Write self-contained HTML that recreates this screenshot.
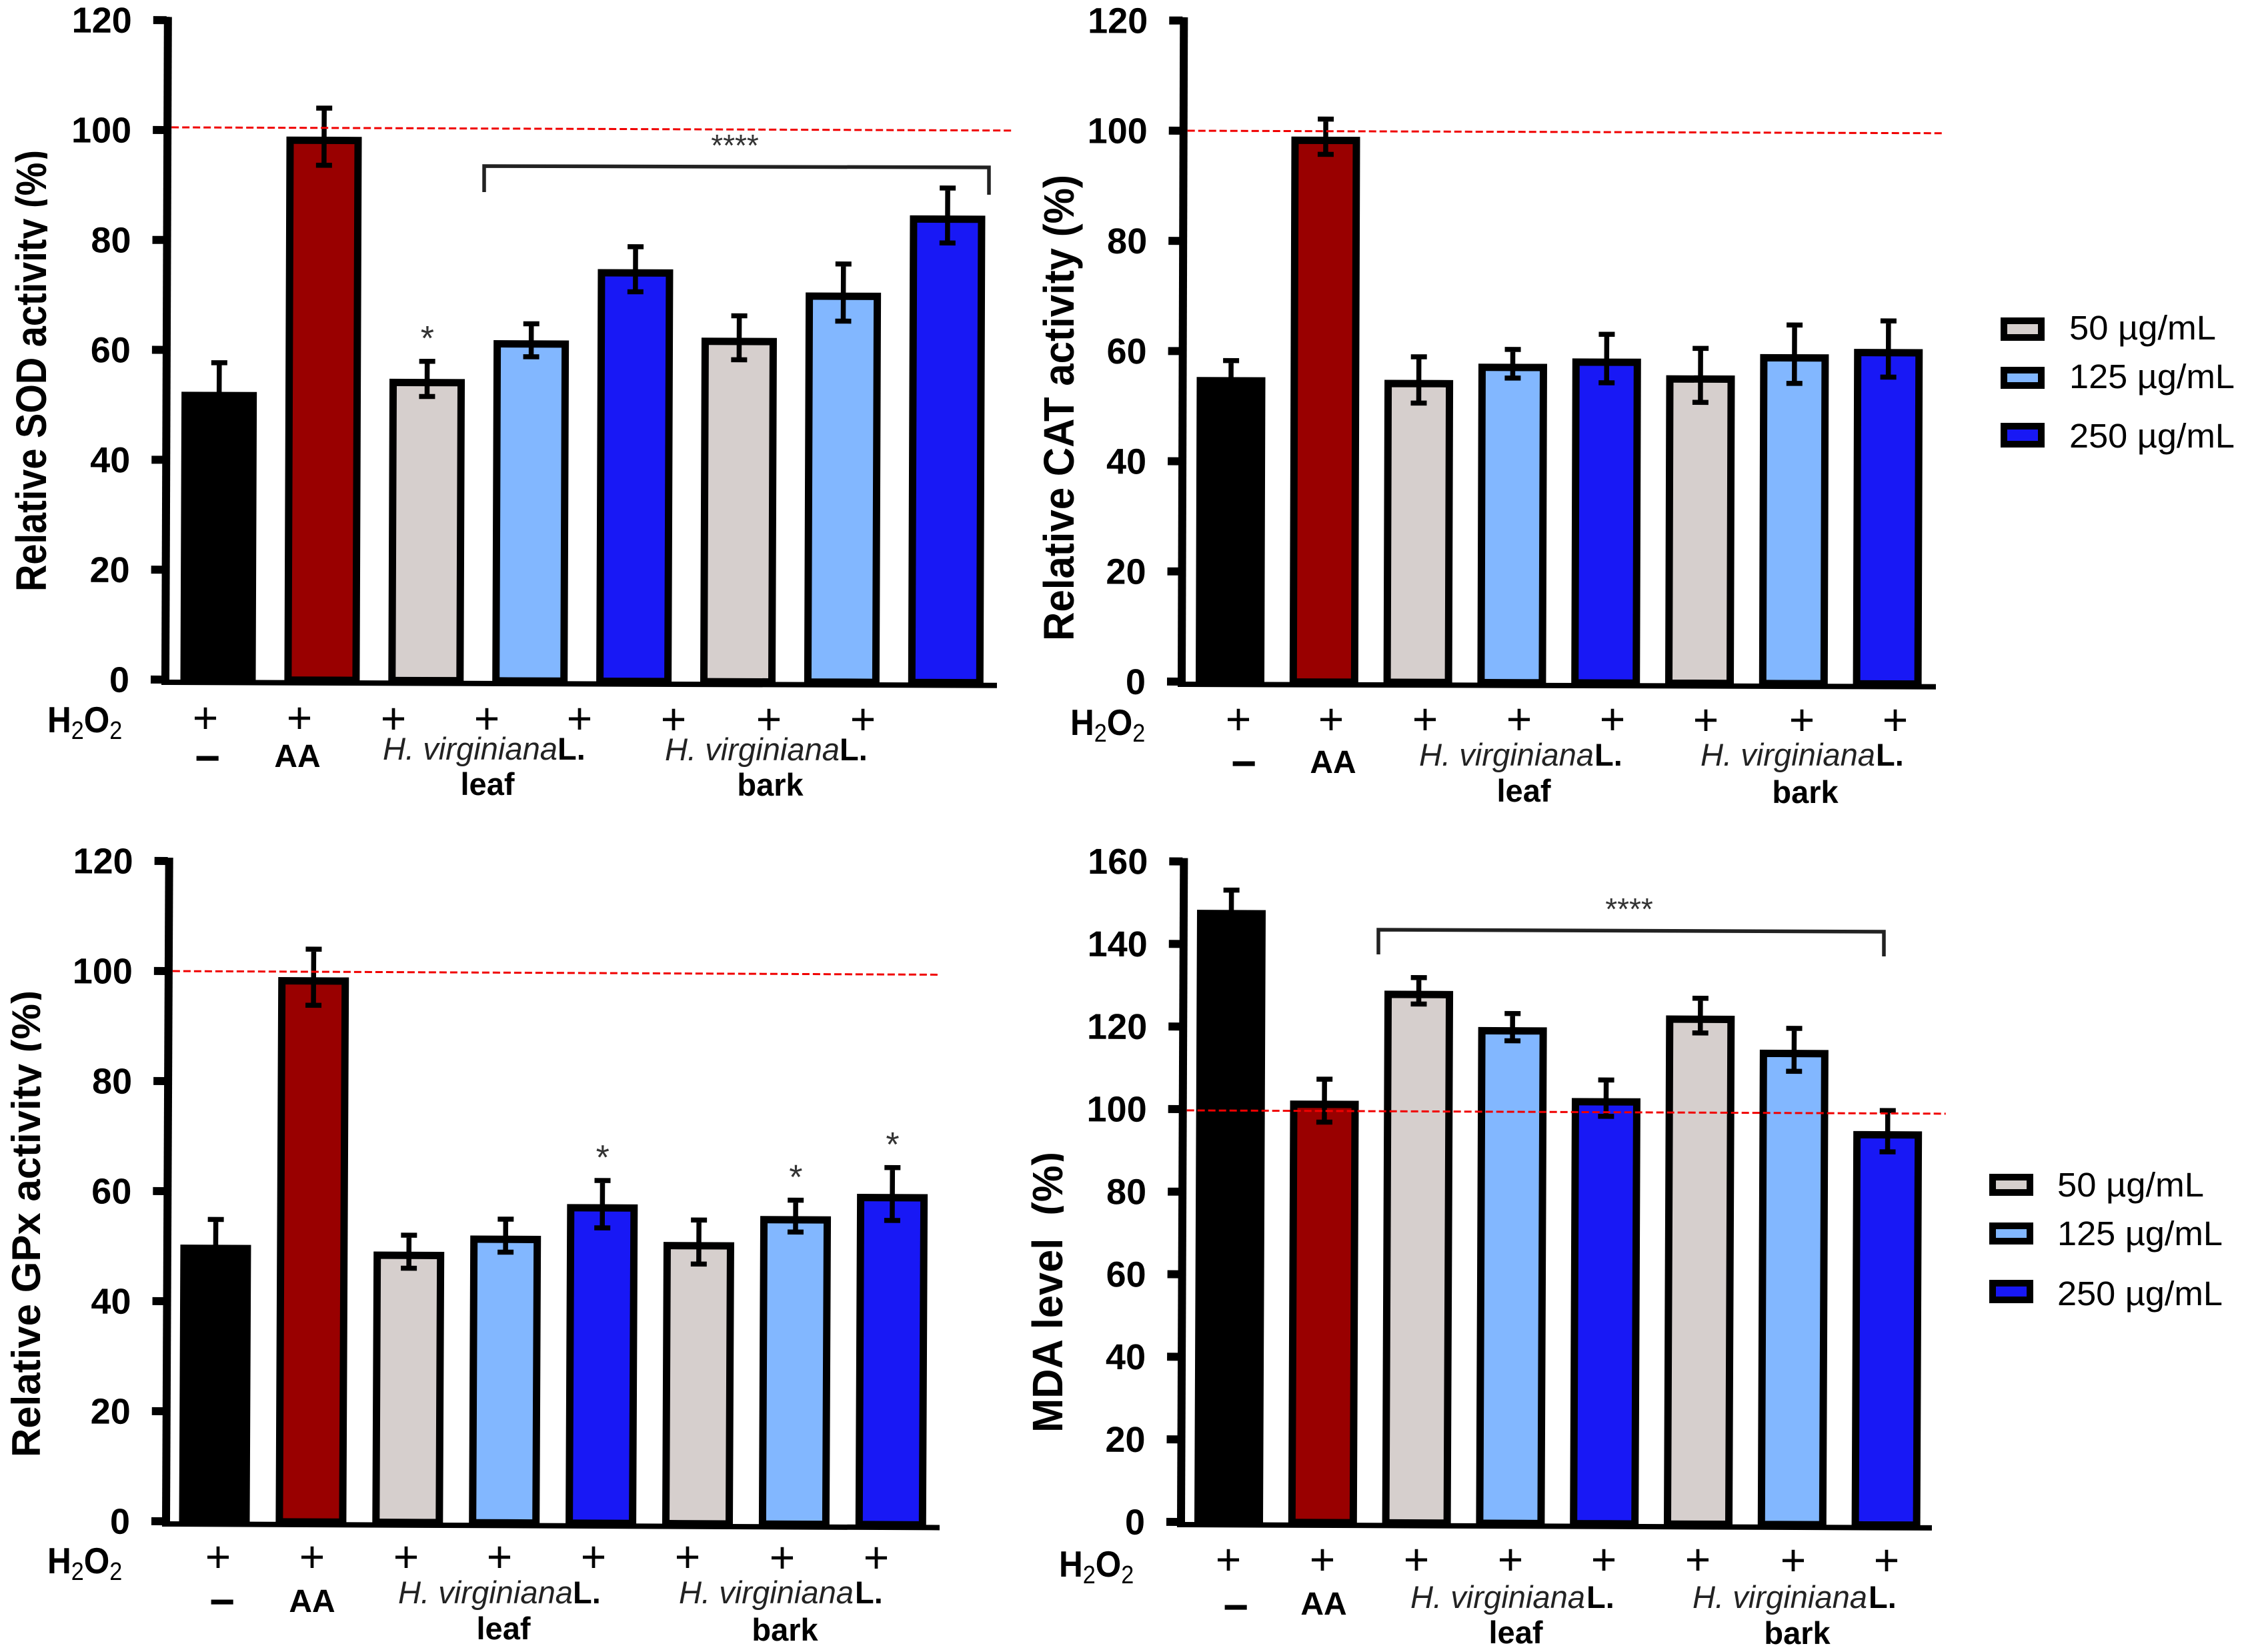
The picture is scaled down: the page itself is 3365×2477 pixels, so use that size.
<!DOCTYPE html>
<html lang="en">
<head>
<meta charset="utf-8">
<title>Antioxidant activity of H. virginiana L. extracts</title>
<style>
html,body{margin:0;padding:0;background:#fff}
svg{display:block}
text{font-family:"Liberation Sans",sans-serif;fill:#000}
.tick{font-size:54px;font-weight:bold;text-anchor:end}
.ytitle{font-size:64px;font-weight:bold;white-space:pre}
.plus{font-size:66px;text-anchor:middle}
.minus{font-size:66px;font-weight:bold;text-anchor:middle}
.aa{font-size:48px;font-weight:bold;text-anchor:middle}
.sp{font-size:47px;font-style:italic;fill:#222}
.spl{font-size:47px;font-weight:bold}
.part{font-size:47px;font-weight:bold;text-anchor:middle}
.h2o2{font-size:55px;font-weight:bold}
.h2o2 tspan.s{font-size:38px;font-weight:normal}
.leg{font-size:51px}
.stars{font-size:46px;fill:#333;text-anchor:middle}
.star{font-size:52px;fill:#333;text-anchor:middle}
</style>
</head>
<body>
<svg id="figure" xmlns="http://www.w3.org/2000/svg" width="3365" height="2477" viewBox="0 0 3365 2477">
<defs>
<clipPath id="clip-sod"><rect x="0" y="200" width="71" height="720"/></clipPath>
<clipPath id="clip-gpx"><rect x="0" y="1460" width="62" height="750"/></clipPath>
<clipPath id="clip-mda"><rect x="1520" y="1700" width="75" height="470"/></clipPath>
</defs>
<rect width="3365" height="2477" fill="#fff"/>

<g id="panel-sod"></g>
<g id="panel-cat"></g>
<g id="panel-gpx"></g>
<g id="panel-mda"></g>

<!-- Axis titles -->
<g clip-path="url(#clip-sod)"><text class="ytitle" transform="translate(69,887) rotate(-90)" textLength="662" lengthAdjust="spacingAndGlyphs">Relative SOD activity (%)</text></g>
<text class="ytitle" transform="translate(1610,961) rotate(-90)" font-size="66" textLength="699" lengthAdjust="spacingAndGlyphs">Relative CAT activity (%)</text>
<g clip-path="url(#clip-gpx)"><text class="ytitle" transform="translate(60,2185) rotate(-90)" style="font-size:60px" textLength="700" lengthAdjust="spacingAndGlyphs">Relative GPx activity (%)</text></g>
<g clip-path="url(#clip-mda)"><text class="ytitle" transform="translate(1593,2148) rotate(-90)" textLength="421" lengthAdjust="spacingAndGlyphs">MDA level  (%)</text></g>

<!-- SOD panel labels -->
<g>
<text class="h2o2" transform="translate(71,1098) scale(0.9,1)">H<tspan class="s" dy="10">2</tspan><tspan dy="-10">O</tspan><tspan class="s" dy="10">2</tspan></text>
<text class="plus" x="308" y="1099">+</text>
<text class="plus" x="449" y="1099">+</text>
<text class="plus" x="590" y="1100">+</text>
<text class="plus" x="730" y="1100">+</text>
<text class="plus" x="869" y="1100">+</text>
<text class="plus" x="1010" y="1101">+</text>
<text class="plus" x="1153" y="1101">+</text>
<text class="plus" x="1294" y="1101">+</text>
<text class="minus" x="311" y="1159">−</text>
<text class="aa" x="446" y="1150">AA</text>
<text class="sp" x="574" y="1139" textLength="262" lengthAdjust="spacingAndGlyphs">H. virginiana</text>
<text class="spl" x="836" y="1139">L.</text>
<text class="part" x="731" y="1192">leaf</text>
<text class="sp" x="997" y="1140" textLength="262" lengthAdjust="spacingAndGlyphs">H. virginiana</text>
<text class="spl" x="1259" y="1140">L.</text>
<text class="part" x="1155" y="1193">bark</text>
</g>

<!-- CAT panel labels -->
<g>
<text class="h2o2" transform="translate(1605,1102) scale(0.9,1)">H<tspan class="s" dy="10">2</tspan><tspan dy="-10">O</tspan><tspan class="s" dy="10">2</tspan></text>
<text class="plus" x="1857" y="1101">+</text>
<text class="plus" x="1996" y="1101">+</text>
<text class="plus" x="2137" y="1101">+</text>
<text class="plus" x="2278" y="1101">+</text>
<text class="plus" x="2418" y="1101">+</text>
<text class="plus" x="2558" y="1102">+</text>
<text class="plus" x="2702" y="1102">+</text>
<text class="plus" x="2842" y="1102">+</text>
<text class="minus" x="1865" y="1167">−</text>
<text class="aa" x="1999" y="1159">AA</text>
<text class="sp" x="2128" y="1148" textLength="262" lengthAdjust="spacingAndGlyphs">H. virginiana</text>
<text class="spl" x="2391" y="1148">L.</text>
<text class="part" x="2285" y="1202">leaf</text>
<text class="sp" x="2550" y="1148" textLength="262" lengthAdjust="spacingAndGlyphs">H. virginiana</text>
<text class="spl" x="2813" y="1148">L.</text>
<text class="part" x="2707" y="1204">bark</text>
</g>

<!-- GPx panel labels -->
<g>
<text class="h2o2" transform="translate(71,2359) scale(0.9,1)">H<tspan class="s" dy="10">2</tspan><tspan dy="-10">O</tspan><tspan class="s" dy="10">2</tspan></text>
<text class="plus" x="327" y="2357">+</text>
<text class="plus" x="468" y="2357">+</text>
<text class="plus" x="609" y="2357">+</text>
<text class="plus" x="749" y="2357">+</text>
<text class="plus" x="890" y="2357">+</text>
<text class="plus" x="1031" y="2357">+</text>
<text class="plus" x="1173" y="2358">+</text>
<text class="plus" x="1314" y="2358">+</text>
<text class="minus" x="333" y="2424">−</text>
<text class="aa" x="468" y="2417">AA</text>
<text class="sp" x="597" y="2404" textLength="262" lengthAdjust="spacingAndGlyphs">H. virginiana</text>
<text class="spl" x="859" y="2404">L.</text>
<text class="part" x="755" y="2458">leaf</text>
<text class="sp" x="1018" y="2404" textLength="262" lengthAdjust="spacingAndGlyphs">H. virginiana</text>
<text class="spl" x="1282" y="2404">L.</text>
<text class="part" x="1177" y="2460">bark</text>
</g>

<!-- MDA panel labels -->
<g>
<text class="h2o2" transform="translate(1588,2364) scale(0.9,1)">H<tspan class="s" dy="10">2</tspan><tspan dy="-10">O</tspan><tspan class="s" dy="10">2</tspan></text>
<text class="plus" x="1842" y="2361">+</text>
<text class="plus" x="1983" y="2361">+</text>
<text class="plus" x="2124" y="2361">+</text>
<text class="plus" x="2265" y="2361">+</text>
<text class="plus" x="2405" y="2361">+</text>
<text class="plus" x="2546" y="2361">+</text>
<text class="plus" x="2689" y="2362">+</text>
<text class="plus" x="2829" y="2362">+</text>
<text class="minus" x="1853" y="2432">−</text>
<text class="aa" x="1985" y="2421">AA</text>
<text class="sp" x="2115" y="2411" textLength="262" lengthAdjust="spacingAndGlyphs">H. virginiana</text>
<text class="spl" x="2379" y="2411">L.</text>
<text class="part" x="2273" y="2464">leaf</text>
<text class="sp" x="2538" y="2411" textLength="262" lengthAdjust="spacingAndGlyphs">H. virginiana</text>
<text class="spl" x="2802" y="2411">L.</text>
<text class="part" x="2695" y="2465">bark</text>
</g>

<!-- Significance brackets -->
<g>
<polyline points="726,288 726,249 1483,251 1483,292" fill="none" stroke="#222" stroke-width="5.5"/>
<text class="stars" x="1102" y="234">****</text>
</g>
<g>
<polyline points="2067,1431 2067,1394 2825,1397 2825,1434" fill="none" stroke="#222" stroke-width="5.5"/>
<text class="stars" x="2443" y="1379">****</text>
</g>

<!-- Legends -->
<g>
<rect x="3005" y="481" width="56" height="25" fill="#D6CFCD" stroke="#000" stroke-width="10"/>
<text class="leg" x="3103" y="509" textLength="220" lengthAdjust="spacingAndGlyphs">50 µg/mL</text>
<rect x="3005" y="555" width="56" height="23" fill="#82B7FF" stroke="#000" stroke-width="10"/>
<text class="leg" x="3103" y="582" textLength="248" lengthAdjust="spacingAndGlyphs">125 µg/mL</text>
<rect x="3005" y="639" width="56" height="27" fill="#1818F5" stroke="#000" stroke-width="10"/>
<text class="leg" x="3103" y="671" textLength="248" lengthAdjust="spacingAndGlyphs">250 µg/mL</text>
</g>
<g>
<rect x="2988" y="1765" width="56" height="23" fill="#D6CFCD" stroke="#000" stroke-width="10"/>
<text class="leg" x="3085" y="1794" textLength="220" lengthAdjust="spacingAndGlyphs">50 µg/mL</text>
<rect x="2988" y="1838" width="56" height="23" fill="#82B7FF" stroke="#000" stroke-width="10"/>
<text class="leg" x="3085" y="1867" textLength="248" lengthAdjust="spacingAndGlyphs">125 µg/mL</text>
<rect x="2988" y="1924" width="56" height="25" fill="#1818F5" stroke="#000" stroke-width="10"/>
<text class="leg" x="3085" y="1957" textLength="248" lengthAdjust="spacingAndGlyphs">250 µg/mL</text>
</g>
</svg>

<script>
// Chart data
const categories = ['control', 'ascorbic-acid', 'leaf-50', 'leaf-125', 'leaf-250', 'bark-50', 'bark-125', 'bark-250'];

const sodValues = [52.4, 98.9, 54.9, 62, 75, 62.6, 70.9, 85];
const sodErrors = [5.3, 5.2, 3.2, 3, 4.1, 4, 5.2, 5];
const sodTicks = [0, 20, 40, 60, 80, 100, 120];
const sodMarked = [2];
const sodReference = [100.5];

const catValues = [55.3, 99, 54.9, 57.9, 58.9, 55.9, 59.8, 60.8];
const catErrors = [3, 3.2, 4.2, 2.6, 4.4, 4.9, 5.3, 5.1];
const catTicks = [0, 20, 40, 60, 80, 100, 120];
const catMarked = [];
const catReference = [100];

const gpxValues = [50.3, 99, 49.2, 52.2, 58, 51.2, 56, 60.1];
const gpxErrors = [4.6, 5.1, 3, 3, 4.3, 4, 2.9, 4.8];
const gpxTicks = [0, 20, 40, 60, 80, 100, 120];
const gpxMarked = [4, 6, 7];
const gpxReference = [100];

const mdaValues = [148.3, 102.2, 128.9, 120.2, 103.1, 123.2, 115, 95.4];
const mdaErrors = [4.8, 5.2, 3.2, 3.3, 4.4, 4.2, 5.2, 5];
const mdaTicks = [0, 20, 40, 60, 80, 100, 120, 140, 160];
const mdaMarked = [];
const mdaReference = [99.7];

const barFills = ['#000000', '#990000', '#D6CFCD', '#82B7FF', '#1818F5', '#D6CFCD', '#82B7FF', '#1818F5'];
const NS = 'http://www.w3.org/2000/svg';

function drawPanel(id, prefix, geo, values, errors, ticks, marked, reference) {
  const root = document.getElementById(id);
  root.setAttribute('transform', 'rotate(' + geo.tilt + ' ' + geo.ox + ' ' + geo.oy + ')');
  const yScale = v => geo.oy - v * geo.unit;
  const xScale = i => geo.first + i * geo.step;
  const topValue = ticks[ticks.length - 1];

  const make = (tag, attrs) => {
    const el = document.createElementNS(NS, tag);
    Object.keys(attrs).forEach(k => el.setAttribute(k, attrs[k]));
    root.appendChild(el);
    return el;
  };

  categories.forEach((cat, i) => {
    const x = xScale(i);
    const sw = geo.stroke;
    const top = yScale(values[i]) + sw / 2;
    const bar = make('rect', {
      x: x - geo.barW / 2 + sw / 2,
      y: top,
      width: geo.barW - sw,
      height: geo.oy - top,
      fill: barFills[i],
      stroke: '#000',
      'stroke-width': sw
    });
    
    

    const hi = yScale(values[i] + errors[i]);
    const lo = yScale(values[i] - errors[i]);
    const err = make('path', {
      d: 'M' + x + ' ' + hi + 'V' + lo + 'M' + (x - 12) + ' ' + hi + 'H' + (x + 12) + 'M' + (x - 12) + ' ' + lo + 'H' + (x + 12),
      fill: 'none',
      stroke: '#000',
      'stroke-width': 7.5
    });
    
    
  });

  marked.forEach(i => {
    const star = make('text', {
      class: 'star',
      x: xScale(i),
      y: yScale(values[i] + errors[i]) - 47 + 30
    });
    star.textContent = '*';
    
    
  });

  const yAxis = make('rect', {
    x: geo.ox - 6,
    y: yScale(topValue) - 5,
    width: 12,
    height: geo.oy - yScale(topValue) + 10,
    fill: '#000'
  });
  
  

  const xAxis = make('rect', {
    x: geo.ox - 6,
    y: geo.oy,
    width: geo.xEnd - geo.ox + 6,
    height: 8,
    fill: '#000'
  });
  
  

  ticks.forEach(t => {
    const mark = make('rect', {
      x: geo.ox - 22,
      y: yScale(t) - 6,
      width: 20,
      height: 12,
      fill: '#000'
    });
    
    
    const label = make('text', {
      class: 'tick',
      x: geo.ox - 54,
      y: yScale(t) + 19
    });
    label.textContent = String(t);
    
    
  });

  const refLine = make('line', {
    x1: geo.ox + 6,
    x2: geo.refEnd,
    y1: yScale(reference[0]),
    y2: yScale(reference[0]),
    stroke: '#f00000',
    'stroke-width': 3,
    'stroke-dasharray': '11 5'
  });
  
  
}

drawPanel('panel-sod', 'sod', {ox: 248, oy: 1019, unit: 8.24, first: 327, step: 155.9, barW: 113, stroke: 11, xEnd: 1495, refEnd: 1515, tilt: 0.22}, sodValues, sodErrors, sodTicks, sodMarked, sodReference);
drawPanel('panel-cat', 'cat', {ox: 1772, oy: 1022, unit: 8.26, first: 1844.5, step: 140.8, barW: 103, stroke: 11, xEnd: 2903, refEnd: 2913, tilt: 0.19}, catValues, catErrors, catTicks, catMarked, catReference);
drawPanel('panel-gpx', 'gpx', {ox: 249, oy: 2281, unit: 8.25, first: 321.5, step: 144.9, barW: 106, stroke: 11, xEnd: 1409, refEnd: 1407, tilt: 0.27}, gpxValues, gpxErrors, gpxTicks, gpxMarked, gpxReference);
drawPanel('panel-mda', 'mda', {ox: 1771, oy: 2282, unit: 6.19, first: 1842.5, step: 140.8, barW: 103, stroke: 11, xEnd: 2897, refEnd: 2915, tilt: 0.25}, mdaValues, mdaErrors, mdaTicks, mdaMarked, mdaReference);
</script>
</body>
</html>
